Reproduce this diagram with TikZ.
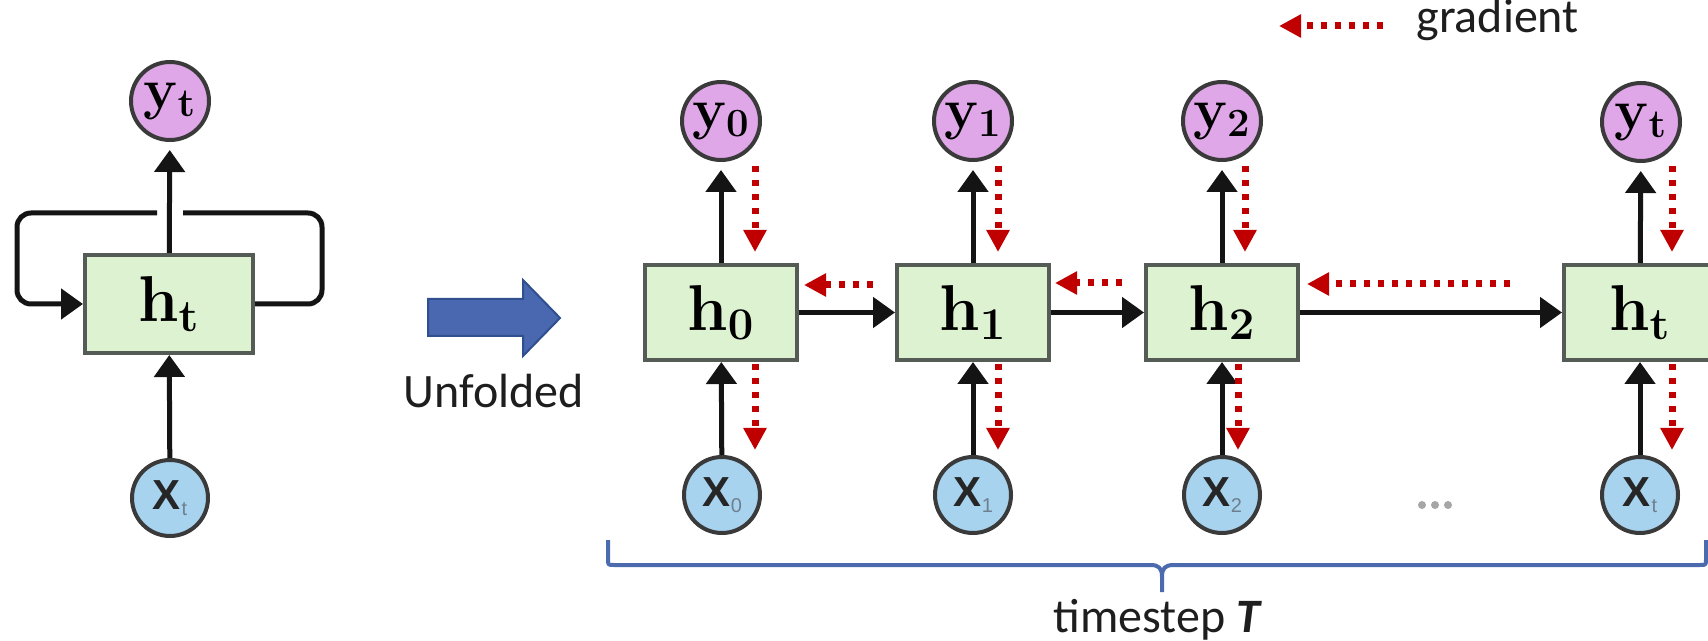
\RequirePackage{fix-cm}
\documentclass[tikz,border=0pt]{standalone}
\usepackage[no-math]{fontspec}
\setmainfont{Carlito}
\newfontfamily\xfont{Liberation Sans}
\usetikzlibrary{arrows.meta}
\definecolor{hfill}{HTML}{DDF2D0}
\definecolor{hborder}{HTML}{555B55}
\definecolor{yfill}{HTML}{DFA7E8}
\definecolor{xfill}{HTML}{A7D3EF}
\definecolor{cborder}{HTML}{3A3A3A}
\definecolor{gred}{HTML}{C00000}
\definecolor{bigarrow}{HTML}{4A68B0}
\definecolor{bigarrowb}{HTML}{2F4F8F}
\definecolor{bracec}{HTML}{4C6AAE}
\definecolor{subgray}{HTML}{6F7F8F}
\definecolor{txt}{HTML}{1E1E1E}
\newcommand\mylabX[1]{{\xfont\fontsize{21}{24}\selectfont\bfseries X\kern0.3pt\raisebox{-3pt}{\fontsize{10}{12}\selectfont\mdseries\color{subgray}#1}}}
\newcommand\mylabY[1]{\scalebox{1.3}{\fontsize{22}{24}\selectfont$\mathbf{y}_{\mathbf{#1}}$}}
\newcommand\mylabH[1]{\scalebox{1.35}{\fontsize{24}{28}\selectfont$\mathbf{h}_{\mathbf{#1}}$}}
\begin{document}
\begin{tikzpicture}[x=0.5pt,y=-0.5pt,
  hbox/.style={rectangle, draw=hborder, fill=hfill, line width=2pt, minimum width=76pt, minimum height=47.5pt, inner sep=0pt, text=black},
  hbig/.style={hbox, minimum width=84pt, minimum height=49pt},
  ycirc/.style={circle, draw=cborder, fill=yfill, line width=2pt, minimum size=39pt, inner sep=0pt, text=black},
  xcirc/.style={circle, draw=cborder, fill=xfill, line width=2pt, minimum size=38pt, inner sep=0pt, text=black!85},
  blk/.style={draw=black!92, line width=2.5pt},
  arr/.style={blk, -{Triangle[length=11pt,width=15pt]}},
  grad/.style={draw=gred, line width=3.5pt, dash pattern=on 3.25pt off 3.75pt, -{Triangle[length=11pt,width=11pt]}},
  lab/.style={font=\fontsize{24}{28}\selectfont, text=txt, inner sep=0pt}
]
\useasboundingbox (0,0) rectangle (1708,641);
\fill[white] (0,0) rectangle (1708,641);
\clip (0,0) rectangle (1708,641);

% ---------- folded RNN ----------
\node[hbig] (hL) at (169,304) {\mylabH{t}};
\node[ycirc] (yL) at (170,101) {\mylabY{t}};
\node[xcirc] (xL) at (170,498) {\mylabX{t}};
\draw[arr] (xL) -- (hL);
\draw[arr, shorten >=4pt] (hL) -- (yL);
\coordinate (loopR) at (322,213);
\coordinate (gapR) at (183,213);
\coordinate (gapL) at (157,213);
\coordinate (loopL) at (17,304);
\draw[blk, rounded corners=7pt] (hL.east) -| (loopR) -- (gapR);
\draw[arr, rounded corners=7pt] (gapL) -| (loopL) -- (hL.west);

% ---------- unfolded arrow ----------
\draw[fill=bigarrow, draw=bigarrowb, line width=1pt, line join=miter]
  (428,299) -- (523,299) -- (523,280) -- (560,318) -- (523,356) -- (523,336) -- (428,336) -- cycle;
\node[lab, anchor=base] (unf) at (494,408) {Unfolded};

% ---------- unfolded RNN ----------
\node[hbox] (h0) at (721,312.5) {\mylabH{0}};
\node[hbox] (h1) at (973,312.5) {\mylabH{1}};
\node[hbox] (h2) at (1222,312.5) {\mylabH{2}};
\node[hbox] (ht) at (1640,312.5) {\mylabH{t}};
\node[ycirc] (y0) at (721,121) {\mylabY{0}};
\node[ycirc] (y1) at (973,121) {\mylabY{1}};
\node[ycirc] (y2) at (1222,121) {\mylabY{2}};
\node[ycirc] (yt) at (1641,122) {\mylabY{t}};
\node[xcirc] (x0) at (722,495) {\mylabX{0}};
\node[xcirc] (x1) at (973,495) {\mylabX{1}};
\node[xcirc] (x2) at (1222,495) {\mylabX{2}};
\node[xcirc] (xt) at (1640,495) {\mylabX{t}};
\foreach \d in {-13,0,13} \fill[gray!70] (1435+\d,505) circle (2pt);

\foreach \i in {0,1,2,t} {
  \draw[arr] (x\i) -- (h\i);
  \draw[arr, shorten >=4pt] (h\i) -- (y\i);
}
\draw[arr] (h0) -- (h1);
\draw[arr] (h1) -- (h2);
\draw[arr] (h2) -- (ht);

% ---------- gradients ----------
\draw[grad] (755,166) -- (755,252);
\draw[grad] (755,364) -- (755,450);
\draw[grad] (873,285) -- (804,285);
\draw[grad] (998,166) -- (998,252);
\draw[grad] (998,364) -- (998,450);
\draw[grad] (1122,283) -- (1055,283);
\draw[grad] (1245,166) -- (1245,252);
\draw[grad] (1238,364) -- (1238,450);
\draw[grad] (1510,284) -- (1307,284);
\draw[grad] (1672,166) -- (1672,252);
\draw[grad] (1672,364) -- (1672,450);

% ---------- legend ----------
\draw[grad] (1383,26) -- (1279,26);
\node[lab, anchor=base west] (leg) at (1416,33) {gradient};

% ---------- brace ----------
\draw[draw=bracec, line width=2pt, line join=round]
  (608,540) -- (608,559) .. controls (608,565) .. (614,565) -- (1150,565)
  .. controls (1159,565) and (1162,568) .. (1162,577) -- (1162,592);
\draw[draw=bracec, line width=2pt, line join=round]
  (1162,577) .. controls (1162,568) and (1165,565) .. (1174,565) -- (1700,565)
  .. controls (1706,565) .. (1706,559) -- (1706,540);
\node[lab, anchor=base] (ts) at (1158,632) {timestep \textbf{\textit{T}}};
\end{tikzpicture}
\end{document}
